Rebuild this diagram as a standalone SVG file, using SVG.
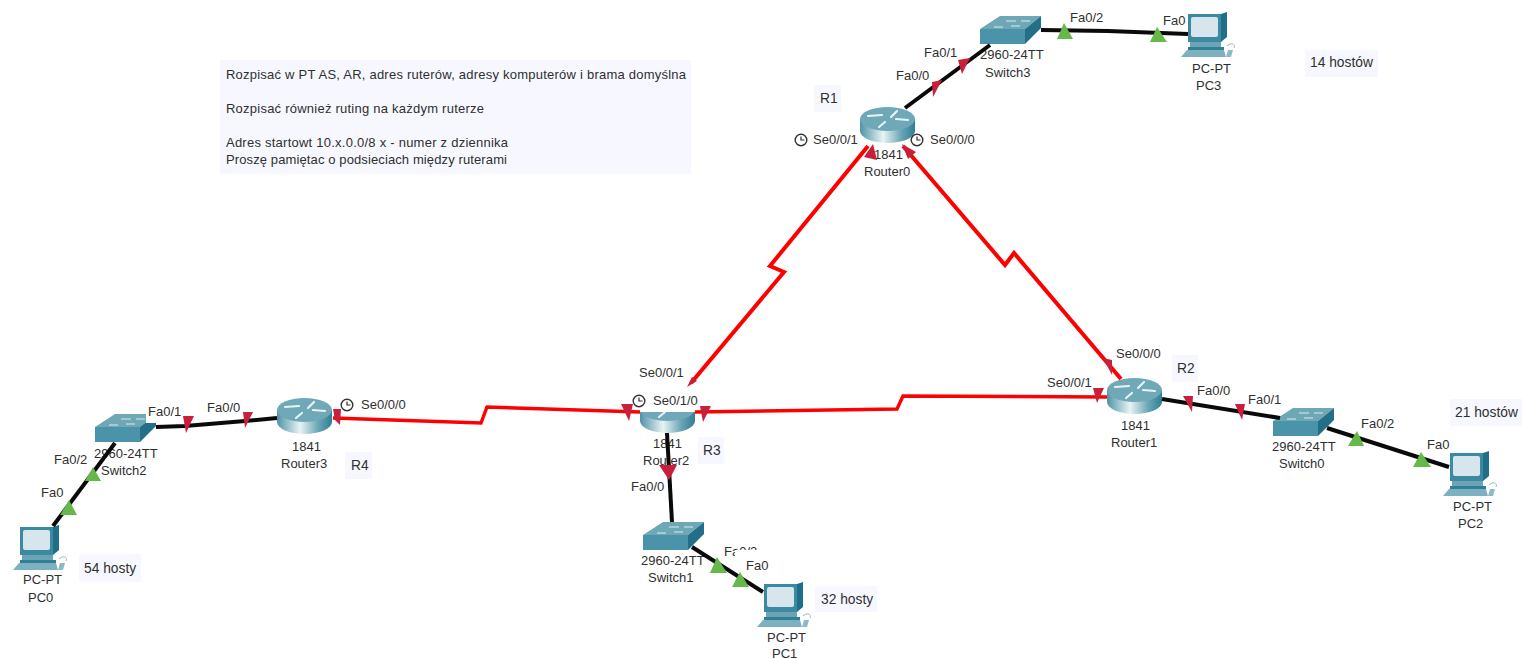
<svg xmlns="http://www.w3.org/2000/svg" width="1522" height="659" viewBox="0 0 1522 659">
<style>
text{font-family:"Liberation Sans",Arial,sans-serif;font-size:13px;fill:#2f2f2f}
.big text{font-size:13.8px}
.note{fill:#f7f8ff}
.bk{fill:none;stroke:#0a0a0a;stroke-width:4;stroke-linejoin:round}
.rd{fill:none;stroke:#ff0000;stroke-width:4;stroke-linejoin:miter}
.rh{stroke-width:3.4}
.pr{fill:#c8203a}
.pg{fill:#66b84a}
.ck{fill:#fff;stroke:#333;stroke-width:1.4}
.ckh{fill:none;stroke:#333;stroke-width:1.2}
</style>
<defs>
<linearGradient id="rb" x1="0" x2="1" y1="0" y2="0">
<stop offset="0" stop-color="#4f93a6"/><stop offset=".42" stop-color="#e9f3f5"/><stop offset=".75" stop-color="#6aa6b5"/><stop offset="1" stop-color="#2f7f95"/>
</linearGradient>
<g id="router">
<path d="M0,12V24A27.5,12 0 0 0 55,24V12Z" fill="url(#rb)"/>
<ellipse cx="27.5" cy="12" rx="27.5" ry="12" fill="#6fa9b7"/>
<path d="M8,9L22,8M37,4L31,10M36,12L48,13M25,15L19,20" fill="none" stroke="#e8f3f5" stroke-width="2.2" stroke-linecap="round"/>
</g>
<g id="switch">
<polygon points="0,13 20,0 61,0 45,13" fill="#6ea7b6"/>
<polygon points="0,13 45,13 45,28 0,28" fill="#4b93a9"/>
<polygon points="45,13 61,0 61,12 45,28" fill="#236f87"/>
<path d="M26,5H36M41,5H50M14,11H23M31,10H40" stroke="#dcebef" stroke-width="1.2" fill="none"/>
</g>
<g id="pc">
<polygon points="7,2 40,2 46,0 46,25 40,30 7,29" fill="#1f6f87"/>
<rect x="7" y="2" width="33" height="28" fill="#3b8aa1"/>
<rect x="10" y="5" width="27" height="20" rx="2" fill="#d6e6ec"/>
<rect x="9" y="30" width="31" height="5" fill="#6ba5b5"/>
<rect x="7" y="35" width="36" height="3" fill="#2f7f95"/>
<polygon points="6,38 43,38 45,45 0,45" fill="#7db1bf"/>
<path d="M46,34C50,30 55,32 53,36" fill="none" stroke="#9bb" stroke-width="1"/>
<polygon points="47,38 52,38 50,45 45,45" fill="#8dbac6"/>
</g>
<g id="clock">
<circle r="5.8" class="ck"/>
<path d="M0,-3.5V0H3.5" class="ckh"/>
</g>
</defs>
<rect width="1522" height="659" fill="#fff"/>

<g id="note">
<rect x="220" y="60" width="471" height="114" class="note"/>
<text x="226" y="79" textLength="460">Rozpisać w PT AS, AR, adres ruterów, adresy komputerów i brama domyślna</text>
<text x="226" y="113" textLength="258">Rozpisać również ruting na każdym ruterze</text>
<text x="226" y="147" textLength="282">Adres startowt 10.x.0.0/8 x - numer z dziennika</text>
<text x="226" y="164" textLength="281">Proszę pamiętac o podsieciach między ruterami</text>
</g>
<g id="labelR1" class="big"><rect x="814" y="85" width="27" height="27" class="note"/><text x="820" y="103">R1</text></g>
<g id="labelR2" class="big"><rect x="1172" y="355" width="26" height="27" class="note"/><text x="1177" y="373">R2</text></g>
<g id="labelR3" class="big"><rect x="698" y="437" width="26" height="27" class="note"/><text x="703" y="455">R3</text></g>
<g id="labelR4" class="big"><rect x="345" y="452" width="27" height="27" class="note"/><text x="351" y="470">R4</text></g>
<g id="label14" class="big"><rect x="1305" y="50" width="73" height="27" class="note"/><text x="1310" y="67">14 hostów</text></g>
<g id="label21" class="big"><rect x="1450" y="399" width="72" height="27" class="note"/><text x="1455" y="417">21 hostów</text></g>
<g id="label32" class="big"><rect x="815" y="586" width="62" height="26" class="note"/><text x="821" y="604">32 hosty</text></g>
<g id="label54" class="big"><rect x="79" y="554" width="62" height="28" class="note"/><text x="84" y="573">54 hosty</text></g>

<g id="Router0"><use href="#router" x="860" y="107"/><text x="874" y="159">1841</text><text x="864" y="176">Router0</text></g>
<g id="Router1"><use href="#router" x="1107" y="378"/><text x="1121" y="430">1841</text><text x="1111" y="447">Router1</text></g>
<g id="Router2"><use href="#router" x="640" y="397"/><rect x="636" y="390" width="64" height="22" fill="#fff"/><text x="653" y="448">1841</text><text x="643" y="465">Router2</text></g>
<g id="Router3"><use href="#router" x="277" y="398"/><text x="292" y="451">1841</text><text x="281" y="468">Router3</text></g>
<g id="Switch0"><use href="#switch" x="1273" y="408"/><text x="1272" y="451">2960-24TT</text><text x="1279" y="468">Switch0</text></g>
<g id="Switch1"><use href="#switch" x="643" y="522"/><text x="641" y="565">2960-24TT</text><text x="648" y="582">Switch1</text></g>
<g id="Switch2"><use href="#switch" x="95" y="414"/><rect x="146" y="405" width="35" height="18" fill="#fff"/><text x="94" y="458">2960-24TT</text><text x="101" y="475">Switch2</text></g>
<g id="Switch3"><use href="#switch" x="980" y="16"/><text x="980" y="59">2960-24TT</text><text x="985" y="77">Switch3</text></g>
<g id="PC0"><use href="#pc" x="13" y="525"/><text x="23" y="584">PC-PT</text><text x="28" y="602">PC0</text></g>
<g id="PC1"><use href="#pc" x="757" y="582"/><text x="767" y="642">PC-PT</text><text x="772" y="658">PC1</text></g>
<g id="PC2"><use href="#pc" x="1443" y="451"/><text x="1453" y="511">PC-PT</text><text x="1458" y="528">PC2</text></g>
<g id="PC3"><use href="#pc" x="1181" y="12"/><text x="1192" y="73">PC-PT</text><text x="1196" y="90">PC3</text></g>

<g id="connectors">
<path class="bk" d="M905,108L990,45"/>
<path class="bk" d="M1041,30L1108,31L1188,34"/>
<path class="bk" d="M156,427L185,426L245,421L277,418"/>
<path class="bk" d="M53,526L115,443"/>
<path class="bk" d="M667,433L672,522"/>
<path class="bk" d="M692,547L763,592"/>
<path class="bk" d="M1162,399L1280,418"/>
<path class="bk" d="M1327,428L1449,467"/>
<path class="rd" d="M868,146L770,266L784,272L691,383"/>
<path class="rd" d="M903,146L1005,265L1014,253L1121,379"/>
<path class="rd rh" d="M333,418L481,423L487,407L640,412"/>
<path class="rd rh" d="M695,412L897,409L903,396L1107,397"/>
<polygon class="pr" points="932,82 942,80 933,97"/>
<polygon class="pr" points="958,60 970,58 962,74"/>
<polygon class="pr" points="873,144 864,157 877,160"/>
<polygon class="pr" points="902,144 908,159 916,152"/>
<polygon class="pr" points="687,387 692,377 697,381"/>
<polygon class="pr" points="621,404 633,404 629,421"/>
<polygon class="pr" points="700,406 711,406 703,422"/>
<polygon class="pr" points="659,465 677,465 669,480"/>
<polygon class="pr" points="1093,388 1104,388 1097,403"/>
<polygon class="pr" points="1103,358 1112,360 1112,375"/>
<polygon class="pr" points="1183,396 1193,396 1192,412"/>
<polygon class="pr" points="1235,404 1245,404 1242,420"/>
<polygon class="pr" points="243,412 253,412 245,428"/>
<polygon class="pr" points="183,416 194,416 186,433"/>
<polygon class="pr" points="333,409 341,409 340,425 335,420"/>
<polygon class="pg" points="1057,39 1073,39 1064,23"/>
<polygon class="pg" points="1150,42 1167,42 1157,27"/>
<polygon class="pg" points="85,481 101,481 93,467"/>
<polygon class="pg" points="60,515 77,515 69,500"/>
<polygon class="pg" points="710,573 727,573 717,557"/>
<polygon class="pg" points="732,587 749,587 740,572"/>
<polygon class="pg" points="1348,446 1364,446 1357,431"/>
<polygon class="pg" points="1413,467 1431,467 1421,452"/>
</g>

<g id="portLabels">
<text x="924" y="57">Fa0/1</text>
<text x="896" y="80">Fa0/0</text>
<text x="1070" y="22">Fa0/2</text>
<text x="1163" y="25">Fa0</text>
<use href="#clock" x="801" y="140"/><text x="813" y="144">Se0/0/1</text>
<use href="#clock" x="917" y="140"/><text x="930" y="144">Se0/0/0</text>
<text x="639" y="377">Se0/0/1</text>
<use href="#clock" x="639" y="401"/><text x="653" y="405">Se0/1/0</text>
<text x="631" y="491">Fa0/0</text>
<text x="724" y="556">Fa0/2</text>
<rect x="735" y="550" width="26" height="7" fill="#fff"/>
<text x="746" y="570">Fa0</text>
<text x="148" y="416">Fa0/1</text>
<text x="207" y="412">Fa0/0</text>
<use href="#clock" x="347" y="405"/><text x="361" y="409">Se0/0/0</text>
<text x="54" y="464">Fa0/2</text>
<text x="41" y="497">Fa0</text>
<text x="1116" y="358">Se0/0/0</text>
<text x="1047" y="387">Se0/0/1</text>
<text x="1197" y="395">Fa0/0</text>
<text x="1248" y="404">Fa0/1</text>
<text x="1361" y="428">Fa0/2</text>
<text x="1427" y="449">Fa0</text>
</g>
</svg>
